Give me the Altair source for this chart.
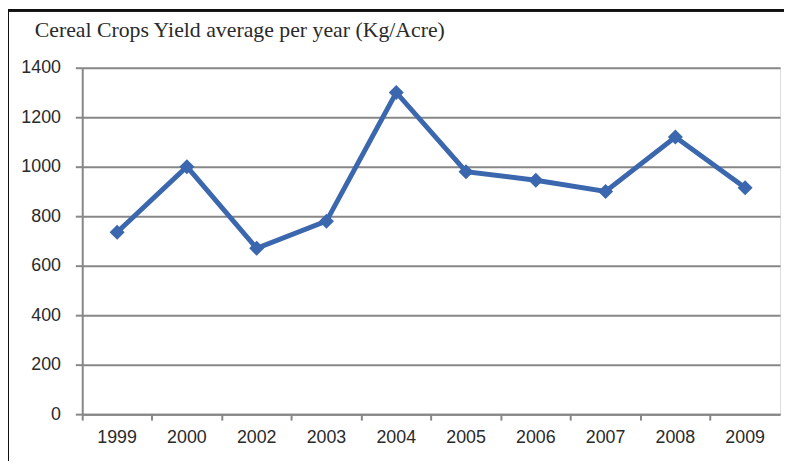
import altair as alt
import pandas as pd

years = ["1999", "2000", "2002", "2003", "2004", "2005", "2006", "2007", "2008", "2009"]
yields = [735, 1000, 670, 780, 1300, 980, 945, 900, 1120, 915]
y_ticks = [0, 200, 400, 600, 800, 1000, 1200, 1400]
title_text = "Cereal Crops Yield average per year (Kg/Acre)"

df = pd.DataFrame({"year": years, "yield": yields})

BLUE = "#3b67ae"
GRID = "#878787"
LABEL_FONT = "Liberation Sans"

x_enc = alt.X("year:N", sort=years, title=None,
              scale=alt.Scale(type="band", paddingInner=0, paddingOuter=0),
              axis=alt.Axis(labelAngle=0, labelFont=LABEL_FONT, labelFontSize=18,
                            labelColor="#2a2a2a", labelPadding=9, domainColor=GRID,
                            domainWidth=2, tickColor=GRID, tickWidth=2, tickSize=6,
                            bandPosition=0, grid=False))
y_enc = alt.Y("yield:Q", title=None,
              scale=alt.Scale(domain=[0, 1400], nice=False),
              axis=alt.Axis(values=y_ticks, format="d", labelFont=LABEL_FONT, labelFontSize=18,
                            labelColor="#2a2a2a", labelPadding=15, domainColor=GRID,
                            domainWidth=2, tickColor=GRID, tickWidth=2, tickSize=7,
                            gridColor=GRID, gridWidth=2, gridOpacity=1))

base = alt.Chart(df)
line = base.mark_line(color=BLUE, strokeWidth=5).encode(x=x_enc, y=y_enc)
pts = base.mark_point(shape="diamond", filled=True, color=BLUE, size=230, opacity=1).encode(
    x=alt.X("year:N", sort=years), y="yield:Q")

frame_top = alt.Chart(df).mark_rule(color="#111111", strokeWidth=2).encode(
    x=alt.value(-75), x2=alt.value(710), y=alt.value(-58))
frame_left = alt.Chart(df).mark_rule(color="#111111", strokeWidth=2).encode(
    x=alt.value(-75), y=alt.value(-58), y2=alt.value(400))
title = alt.Chart(pd.DataFrame({"t": [title_text]})).mark_text(
    font="Liberation Serif", fontSize=22, color="#2a2a2a", align="left", baseline="middle"
).encode(text="t:N", x=alt.value(-48), y=alt.value(-38))

chart = alt.layer(line, pts, frame_top, frame_left, title).properties(
    width=705, height=350,
    autosize=alt.AutoSizeParams(type="none"),
    padding={"left": 75, "top": 58, "right": 4, "bottom": 45},
).configure_view(stroke=None).configure(background="white")

chart.save("out.html", embed_options={"renderer": "svg", "actions": False})
